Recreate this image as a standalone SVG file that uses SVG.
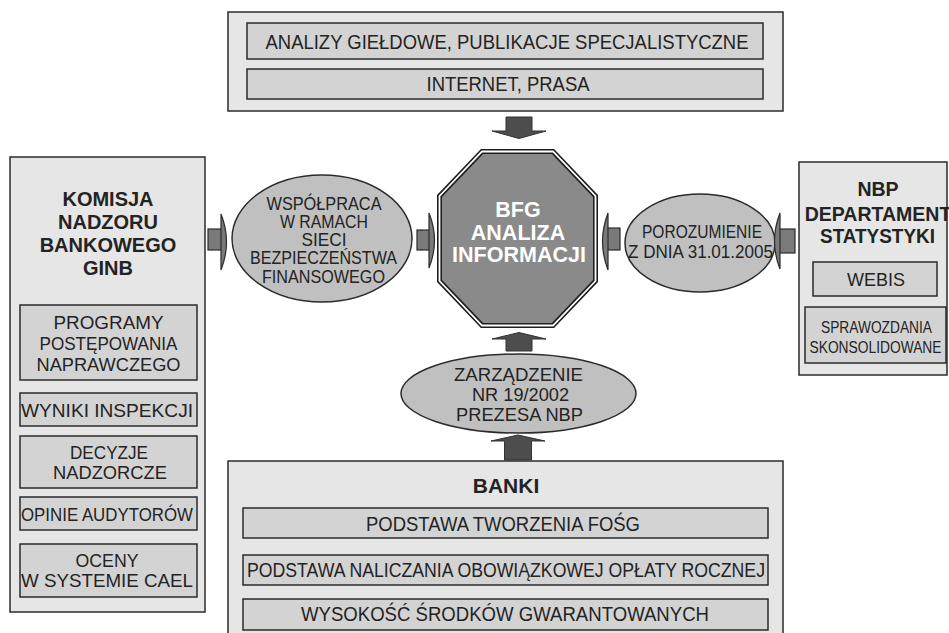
<svg xmlns="http://www.w3.org/2000/svg" width="949" height="633" viewBox="0 0 949 633">
<style>
.box{fill:#e6e6e6;stroke:#2b2b2b;stroke-width:1.5}
.sub{fill:#d3d3d3;stroke:#2b2b2b;stroke-width:1.5}
.ell{fill:#c0c0c0;stroke:#2b2b2b;stroke-width:1.5}
text{font-family:"Liberation Sans",Arial,sans-serif;font-size:18.5px;fill:#232323;text-anchor:middle}
.b{font-weight:bold;font-size:20px}
.s{font-size:16.5px}
.m{font-size:18px}
.l{font-size:20px}
.w{fill:#ffffff;font-size:21.5px;font-weight:bold}
.va{fill:#4d4d4d;stroke:#333;stroke-width:1}
.hs{fill:#7a7a7a;stroke:#2b2b2b;stroke-width:1.2}
</style>
<rect x="0" y="0" width="949" height="633" fill="#ffffff"/>

<g id="zrodla">
<rect class="box" x="228" y="12" width="555" height="99"/>
<rect class="sub" x="247" y="23" width="516" height="36"/>
<text class="l" x="507" y="48.5" textLength="483" lengthAdjust="spacingAndGlyphs">ANALIZY GIEŁDOWE, PUBLIKACJE SPECJALISTYCZNE</text>
<rect class="sub" x="247" y="69" width="516" height="30"/>
<text class="l" x="508" y="91" textLength="163" lengthAdjust="spacingAndGlyphs">INTERNET, PRASA</text>
</g>

<g id="knb">
<rect class="box" x="10" y="157" width="195" height="455"/>
<text class="b" x="108" y="206">KOMISJA</text>
<text class="b" x="108" y="229">NADZORU</text>
<text class="b" x="108" y="252">BANKOWEGO</text>
<text class="b" x="108" y="275">GINB</text>
<rect class="sub" x="20" y="305" width="177" height="75"/>
<text x="108.5" y="329" textLength="110" lengthAdjust="spacingAndGlyphs">PROGRAMY</text>
<text x="108.5" y="350" textLength="138" lengthAdjust="spacingAndGlyphs">POSTĘPOWANIA</text>
<text x="108.5" y="371" textLength="144" lengthAdjust="spacingAndGlyphs">NAPRAWCZEGO</text>
<rect class="sub" x="20" y="393" width="177" height="33"/>
<text x="107" y="417" textLength="172" lengthAdjust="spacingAndGlyphs">WYNIKI INSPEKCJI</text>
<rect class="sub" x="20" y="436" width="177" height="52"/>
<text x="109" y="459" textLength="78" lengthAdjust="spacingAndGlyphs">DECYZJE</text>
<text x="110" y="479" textLength="114" lengthAdjust="spacingAndGlyphs">NADZORCZE</text>
<rect class="sub" x="20" y="497" width="177" height="33"/>
<text x="107" y="521" textLength="172" lengthAdjust="spacingAndGlyphs">OPINIE AUDYTORÓW</text>
<rect class="sub" x="20" y="544" width="177" height="53"/>
<text x="107" y="567" textLength="63" lengthAdjust="spacingAndGlyphs">OCENY</text>
<text x="107" y="587" textLength="172" lengthAdjust="spacingAndGlyphs">W SYSTEMIE CAEL</text>
</g>

<g id="wspolpraca">
<ellipse class="ell" cx="322" cy="238.5" rx="90" ry="63.5"/>
<text class="m" x="324" y="210" textLength="115" lengthAdjust="spacingAndGlyphs">WSPÓŁPRACA</text>
<text class="m" x="324" y="228" textLength="88" lengthAdjust="spacingAndGlyphs">W RAMACH</text>
<text class="m" x="324" y="246" textLength="45" lengthAdjust="spacingAndGlyphs">SIECI</text>
<text class="m" x="323.5" y="264" textLength="147" lengthAdjust="spacingAndGlyphs">BEZPIECZEŃSTWA</text>
<text class="m" x="323.5" y="283" textLength="123" lengthAdjust="spacingAndGlyphs">FINANSOWEGO</text>
</g>

<g id="bfg">
<polygon points="482,151.5 553,151.5 595.5,196 595.5,281 553,325.5 482,325.5 439.5,281 439.5,196" fill="#8a8a8a" stroke="#1e1e1e" stroke-width="5" stroke-linejoin="miter"/>
<polygon points="482,151.5 553,151.5 595.5,196 595.5,281 553,325.5 482,325.5 439.5,281 439.5,196" fill="none" stroke="#ffffff" stroke-width="1.8"/>
<text class="w" x="518" y="217">BFG</text>
<text class="w" x="518" y="240">ANALIZA</text>
<text class="w" x="519" y="262">INFORMACJI</text>
</g>

<g id="porozumienie">
<ellipse class="ell" cx="700" cy="243" rx="75" ry="49"/>
<text class="m" x="702" y="238" textLength="120" lengthAdjust="spacingAndGlyphs">POROZUMIENIE</text>
<text class="m" x="700.5" y="258" textLength="145" lengthAdjust="spacingAndGlyphs">Z DNIA 31.01.2005</text>
</g>

<g id="nbp">
<rect class="box" x="799" y="162" width="148" height="213"/>
<text class="b" x="878" y="196" style="font-size:19.5px">NBP</text>
<text class="b" x="878" y="221" style="font-size:19.5px">DEPARTAMENT</text>
<text class="b" x="877.5" y="243" style="font-size:19.5px" textLength="115" lengthAdjust="spacingAndGlyphs">STATYSTYKI</text>
<rect class="sub" x="813" y="262" width="124" height="34"/>
<text x="876" y="286" textLength="58" lengthAdjust="spacingAndGlyphs">WEBIS</text>
<rect class="sub" x="805" y="307" width="141" height="56"/>
<text class="s" x="876.5" y="333" textLength="111" lengthAdjust="spacingAndGlyphs">SPRAWOZDANIA</text>
<text class="s" x="875.5" y="353" textLength="132" lengthAdjust="spacingAndGlyphs">SKONSOLIDOWANE</text>
</g>

<g id="zarzadzenie">
<ellipse class="ell" cx="518.5" cy="393.5" rx="117.5" ry="39.5"/>
<text class="m" x="518.5" y="381" textLength="129" lengthAdjust="spacingAndGlyphs">ZARZĄDZENIE</text>
<text class="m" x="520.5" y="401" textLength="97" lengthAdjust="spacingAndGlyphs">NR 19/2002</text>
<text class="m" x="519.5" y="421" textLength="127" lengthAdjust="spacingAndGlyphs">PREZESA NBP</text>
</g>

<g id="banki">
<rect class="box" x="228" y="461" width="555" height="185"/>
<text class="b" x="506" y="493" style="font-size:21px">BANKI</text>
<rect class="sub" x="243" y="508" width="525" height="30"/>
<text class="l" x="503" y="531" textLength="274" lengthAdjust="spacingAndGlyphs">PODSTAWA TWORZENIA FOŚG</text>
<rect class="sub" x="243" y="555" width="525" height="30"/>
<text class="l" x="506" y="577" textLength="518" lengthAdjust="spacingAndGlyphs">PODSTAWA NALICZANIA OBOWIĄZKOWEJ OPŁATY ROCZNEJ</text>
<rect class="sub" x="243" y="599" width="525" height="31"/>
<text class="l" x="505" y="621" textLength="408" lengthAdjust="spacingAndGlyphs">WYSOKOŚĆ ŚRODKÓW GWARANTOWANYCH</text>
</g>

<g id="connectors">
<path class="va" d="M506,117 H532 V131 H546 L519,138.5 L492,131 H506 Z"/>
<path class="va" d="M506,351 H532 V339 H546 L519,332.5 L492,339 H506 Z"/>
<path class="va" d="M504.5,460 H531.5 V441 H545 L518,435 L491,441 H504.5 Z"/>
<rect class="hs" x="208" y="229" width="14" height="21"/>
<path class="hs" d="M221,214 Q232,242 221,270 Z"/>
<rect class="hs" x="417" y="230" width="13" height="20"/>
<path class="hs" d="M429,213 Q440,240.5 429,268 Z"/>
<rect class="hs" x="607" y="228" width="13" height="22"/>
<path class="hs" d="M608,213 Q597,241.5 608,270 Z"/>
<rect class="hs" x="779" y="229" width="16" height="24"/>
<path class="hs" d="M780,213 Q769,241 780,269 Z"/>
</g>
</svg>
